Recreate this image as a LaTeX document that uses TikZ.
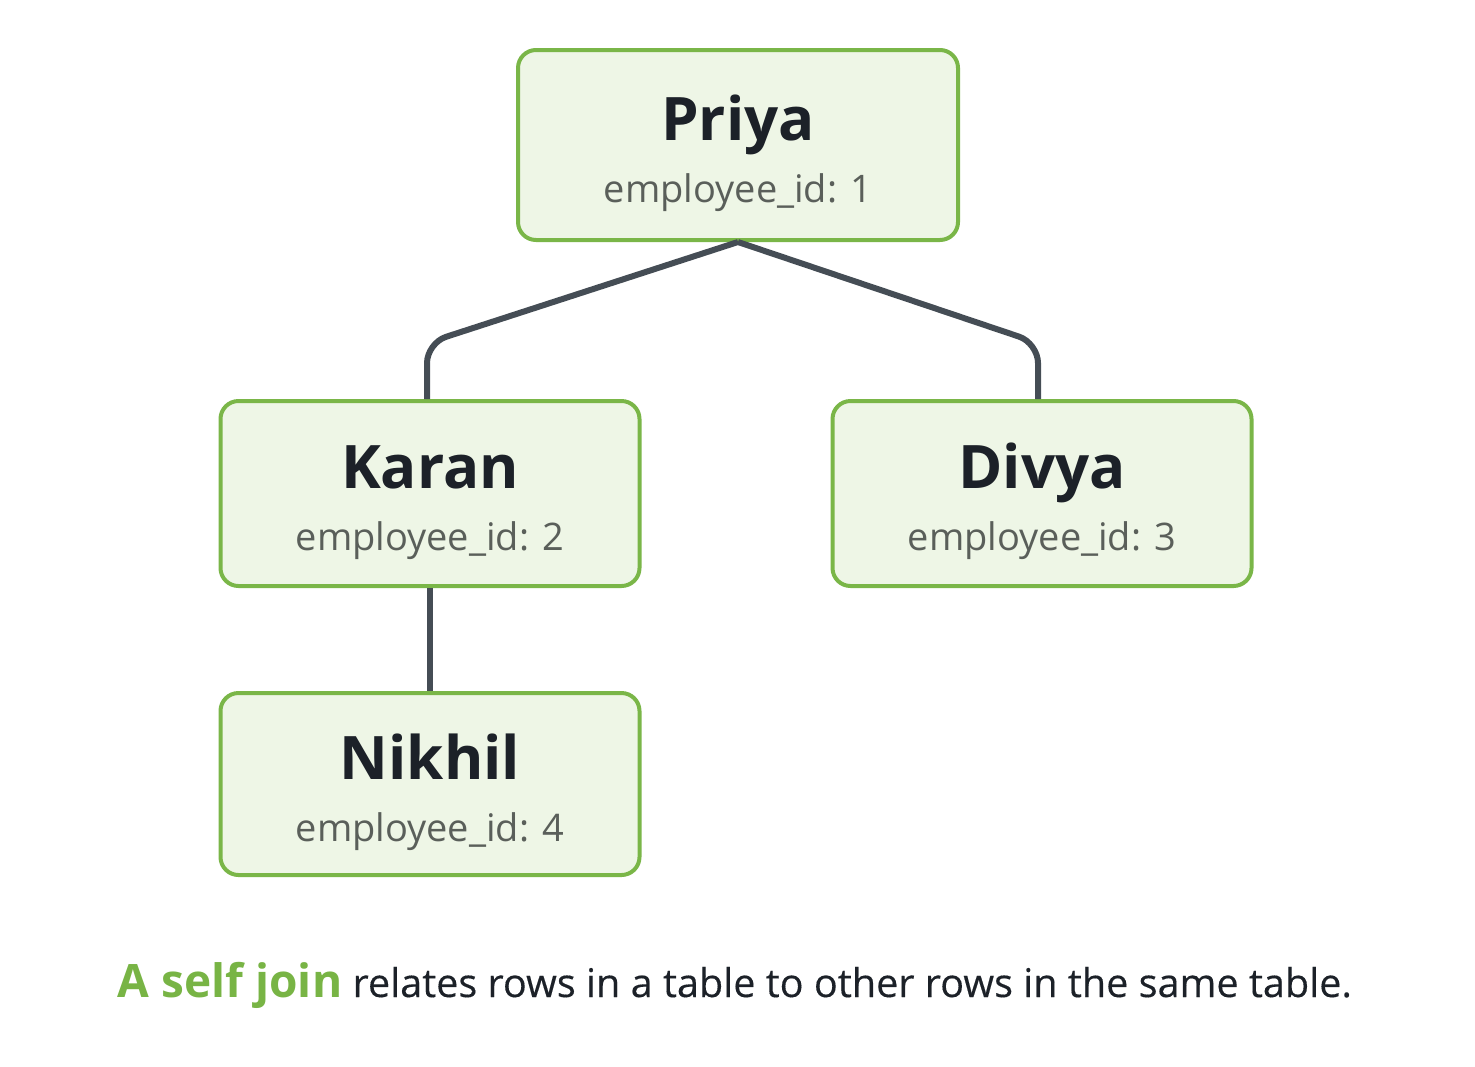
\documentclass[tikz,border=0pt]{standalone}
\usepackage{fontspec}
\setmainfont{Open Sans}
\definecolor{boxgreen}{HTML}{7AB648}
\definecolor{boxfill}{HTML}{EEF6E6}
\definecolor{linkgray}{HTML}{454D55}
\definecolor{namedark}{HTML}{1C2128}
\definecolor{idgray}{HTML}{5A5F5A}
\definecolor{joingreen}{HTML}{78B445}
\tikzset{
    emp/.style={draw=boxgreen, line width=2pt, fill=boxfill, rounded corners=9pt,
        inner sep=0pt, align=center, text height=62pt, text depth=5pt,
        font=\fontsize{19pt}{31pt}\selectfont},
    link/.style={draw=linkgray, line width=3pt, rounded corners=10pt}
}
\newcommand{\empname}[1]{{\fontsize{30pt}{31pt}\selectfont\bfseries\color{namedark}#1}}
\newcommand{\empid}[1]{{\color{idgray}employee\_id: #1}}
\begin{document}
\begin{tikzpicture}[x=0.5pt, y=-0.5pt]
    \useasboundingbox (0, 0) rectangle (1475, 1066);
        % employees
        \node[emp, minimum width=220pt, minimum height=95pt] (priya) at (738, 145)
            {\empname{Priya}\\\empid{1}};
        \node[emp, minimum width=209.5pt, minimum height=92.5pt] (karan) at (430, 493.5)
            {\empname{Karan}\\\empid{2}};
        \node[emp, minimum width=209.5pt, minimum height=92.5pt] (divya) at (1042, 493.5)
            {\empname{Divya}\\\empid{3}};
        \node[emp, minimum width=209.5pt, minimum height=91pt] (nikhil) at (430, 784)
            {\empname{Nikhil}\\\empid{4}};
        % manager links
        \coordinate (kbend) at (427, 343);
        \coordinate (dbend) at (1038, 343);
        \draw[link] (priya.south) -- (kbend) -- (kbend |- karan.north);
        \draw[link] (priya.south) -- (dbend) -- (dbend |- divya.north);
        \draw[link] (karan.south) -- (nikhil.north);
        % caption
        \node[anchor=base] (caption) at (735, 997)
            {{\fontsize{23pt}{28pt}\selectfont\bfseries\color{joingreen}A self join}%
             {\fontsize{19.8pt}{24pt}\selectfont\addfontfeatures{FakeBold=0.3}\color{namedark}\ relates rows in a table to other rows in the same table.}};
\end{tikzpicture}
\end{document}
